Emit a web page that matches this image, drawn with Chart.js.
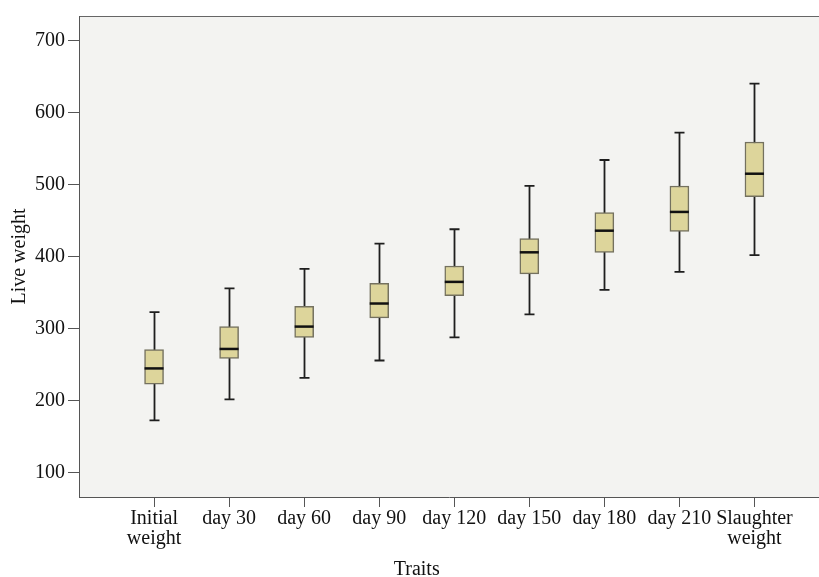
<!DOCTYPE html>
<html>
<head>
<meta charset="utf-8">
<script src="https://cdn.jsdelivr.net/npm/chart.js@4.4.0/dist/chart.umd.min.js"></script>
<style>
  html,body{margin:0;padding:0;background:#fff;overflow:hidden}
  #wrap{width:819px;height:577px}
</style>
</head>
<body>
<div id="wrap"><canvas id="chart" width="819" height="577"></canvas></div>
<script>
// categories and box plot values
const traits = [['Initial','weight'],'day 30','day 60','day 90','day 120','day 150','day 180','day 210',['Slaughter','weight']];
const whiskerLow  = [173, 202, 232, 256, 288, 320, 354, 379, 402];
const q1          = [223, 259, 288, 315, 346, 376, 406, 435, 483];
const median      = [245, 272, 303, 335, 365, 406, 436, 462, 515];
const q3          = [271, 303, 331, 363, 387, 425, 461, 498, 559];
const whiskerHigh = [323, 356, 383, 418, 438, 498, 534, 572, 640];
const yTicks = [100, 200, 300, 400, 500, 600, 700];

const FONT = 'Liberation Serif';

const boxPlot = {
  id: 'boxPlot',
  beforeDraw(chart){
    const {ctx, chartArea:a} = chart;
    ctx.save();
    ctx.fillStyle = '#f3f3f1';
    ctx.fillRect(a.left, a.top, a.right - a.left, a.bottom - a.top);
    ctx.strokeStyle = '#666';
    ctx.lineWidth = 1;
    ctx.beginPath();
    ctx.moveTo(a.left, a.top + 0.5);
    ctx.lineTo(a.right, a.top + 0.5);
    ctx.stroke();
    ctx.restore();
  },
  beforeDatasetsDraw(chart){
    const {ctx, scales:{x, y}} = chart;
    ctx.save();
    ctx.strokeStyle = '#1e1e1e';
    ctx.lineWidth = 1.8;
    traits.forEach((t, i) => {
      const px = Math.round(x.getPixelForValue(i + 1)) + 0.5;
      const lo = y.getPixelForValue(whiskerLow[i]);
      const hi = y.getPixelForValue(whiskerHigh[i]);
      ctx.beginPath();
      ctx.moveTo(px, lo); ctx.lineTo(px, hi);
      ctx.moveTo(px - 5, lo); ctx.lineTo(px + 5, lo);
      ctx.moveTo(px - 5, hi); ctx.lineTo(px + 5, hi);
      ctx.stroke();
    });
    ctx.restore();
  },
  afterDatasetsDraw(chart){
    const {ctx, scales:{x, y}} = chart;
    const meta = chart.getDatasetMeta(0);
    ctx.save();
    ctx.strokeStyle = '#111';
    ctx.lineWidth = 2.5;
    traits.forEach((t, i) => {
      const bar = meta.data[i];
      const px = x.getPixelForValue(i + 1);
      const w = bar.width / 2;
      const py = y.getPixelForValue(median[i]);
      ctx.beginPath();
      ctx.moveTo(px - w, py); ctx.lineTo(px + w, py);
      ctx.stroke();
    });
    // x axis title, centred as in the source
    ctx.fillStyle = '#111';
    ctx.font = '20px "' + FONT + '"';
    ctx.textAlign = 'center';
    ctx.textBaseline = 'alphabetic';
    ctx.fillText('Traits', x.getPixelForValue(4.5), 575);
    ctx.restore();
  }
};

new Chart(document.getElementById('chart'), {
  type: 'bar',
  data: {
    datasets: [{
      label: 'Live weight',
      data: traits.map((t, i) => ({x: i + 1, y: [q1[i], q3[i]]})),
      backgroundColor: '#ddd59b',
      borderColor: '#74715f',
      borderWidth: 1.5,
      borderSkipped: false,
      barThickness: 19
    }]
  },
  options: {
    responsive: false,
    animation: false,
    layout: { padding: { top: 16, left: 0, right: 0, bottom: 0 } },
    plugins: { legend: { display: false }, tooltip: { enabled: false } },
    scales: {
      x: {
        type: 'linear',
        offset: false,
        min: 0,
        max: 9.86,
        afterBuildTicks(scale){ scale.ticks = traits.map((t, i) => ({value: i + 1})); },
        afterFit(scale){ scale.height = 80; },
        ticks: {
          autoSkip: false,
          maxRotation: 0,
          padding: 2,
          color: '#111',
          font: { family: FONT, size: 20, lineHeight: 1.0 },
          callback: (v) => traits[v - 1]
        },
        grid: { offset: false, drawOnChartArea: false, tickLength: 10, color: '#555', lineWidth: 1 },
        border: { color: '#555', width: 1 }
      },
      y: {
        min: 66.7,
        max: 733.7,
        afterBuildTicks(scale){ scale.ticks = yTicks.map(v => ({value: v})); },
        afterFit(scale){ scale.width = 79; },
        ticks: {
          padding: 3,
          color: '#111',
          font: { family: FONT, size: 20 }
        },
        grid: { drawOnChartArea: false, tickLength: 11, color: '#555', lineWidth: 1 },
        border: { color: '#555', width: 1 },
        title: {
          display: true,
          text: 'Live weight',
          color: '#111',
          font: { family: FONT, size: 20 },
          padding: { top: 8, bottom: 0 }
        }
      }
    }
  },
  plugins: [boxPlot]
});
</script>
</body>
</html>
